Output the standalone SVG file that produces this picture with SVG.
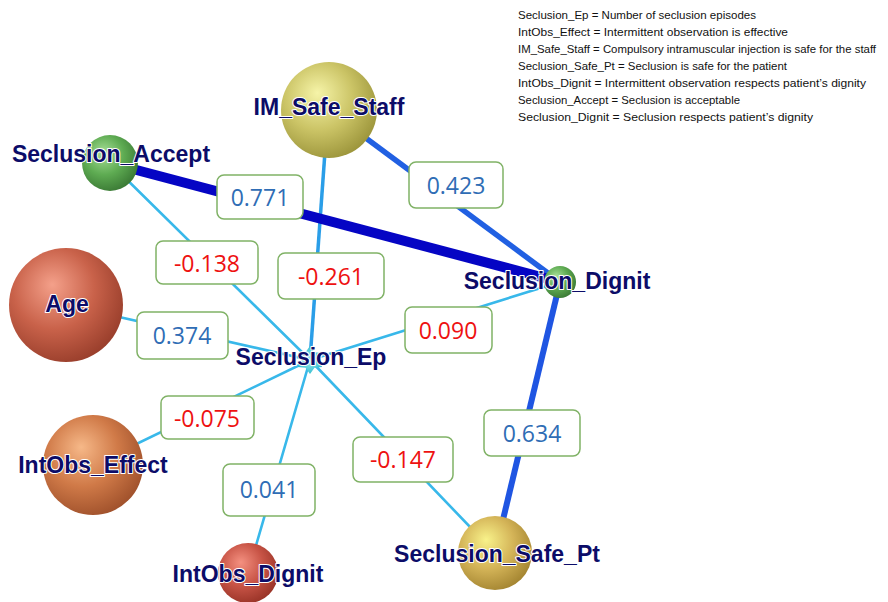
<svg xmlns="http://www.w3.org/2000/svg" width="888" height="602" viewBox="0 0 888 602">
<defs>
<radialGradient id="gGreen" cx="0.4" cy="0.38" r="0.65" fx="0.38" fy="0.32"><stop offset="0" stop-color="#a8e098"/><stop offset="0.55" stop-color="#5eab52"/><stop offset="1" stop-color="#3b7a35"/></radialGradient>
<radialGradient id="gOlive" cx="0.4" cy="0.38" r="0.65" fx="0.38" fy="0.32"><stop offset="0" stop-color="#f6f4a8"/><stop offset="0.55" stop-color="#cbc466"/><stop offset="1" stop-color="#9d963c"/></radialGradient>
<radialGradient id="gAge" cx="0.4" cy="0.38" r="0.65" fx="0.38" fy="0.32"><stop offset="0" stop-color="#f4a08a"/><stop offset="0.55" stop-color="#c9624a"/><stop offset="1" stop-color="#9a3f2c"/></radialGradient>
<radialGradient id="gEffect" cx="0.4" cy="0.38" r="0.65" fx="0.38" fy="0.32"><stop offset="0" stop-color="#f6b888"/><stop offset="0.55" stop-color="#d07a48"/><stop offset="1" stop-color="#a1522c"/></radialGradient>
<radialGradient id="gIntDig" cx="0.4" cy="0.38" r="0.65" fx="0.38" fy="0.32"><stop offset="0" stop-color="#f49080"/><stop offset="0.55" stop-color="#c85446"/><stop offset="1" stop-color="#9a3428"/></radialGradient>
<radialGradient id="gSafe" cx="0.4" cy="0.38" r="0.65" fx="0.38" fy="0.32"><stop offset="0" stop-color="#f8f28a"/><stop offset="0.55" stop-color="#d4b458"/><stop offset="1" stop-color="#a58632"/></radialGradient>
<radialGradient id="gStar" cx="0.5" cy="0.5" r="0.6"><stop offset="0" stop-color="#9ff0f4"/><stop offset="1" stop-color="#22b4c8"/></radialGradient>
</defs>
<style>
.weak{stroke:#38b8ea;stroke-width:2.6;fill:none;stroke-linecap:round}
.box{fill:#ffffff;stroke:#80b266;stroke-width:1.5}
.val{font-family:"Open Sans","Liberation Sans",sans-serif;font-size:23px;text-anchor:middle}
.pos{fill:#2f6db5}
.neg{fill:#ee1111}
.lbl{font-family:"Liberation Sans",Arial,sans-serif;font-weight:bold;font-size:23px;fill:#0c0c68;stroke:#ffffff;stroke-width:2;paint-order:stroke;stroke-linejoin:round}
.leg{font-family:"Liberation Sans",Arial,sans-serif;font-size:11px;fill:#111111}
</style>
<rect width="888" height="602" fill="#ffffff"/>
<g id="legend">
<text class="leg" x="518" y="19" textLength="238" lengthAdjust="spacingAndGlyphs">Seclusion_Ep = Number of seclusion episodes</text>
<text class="leg" x="518" y="36" textLength="270" lengthAdjust="spacingAndGlyphs">IntObs_Effect = Intermittent observation is effective</text>
<text class="leg" x="518" y="53" textLength="358" lengthAdjust="spacingAndGlyphs">IM_Safe_Staff = Compulsory intramuscular injection is safe for the staff</text>
<text class="leg" x="518" y="70" textLength="269" lengthAdjust="spacingAndGlyphs">Seclusion_Safe_Pt = Seclusion is safe for the patient</text>
<text class="leg" x="518" y="87" textLength="348" lengthAdjust="spacingAndGlyphs">IntObs_Dignit = Intermittent observation respects patient’s dignity</text>
<text class="leg" x="518" y="104" textLength="222" lengthAdjust="spacingAndGlyphs">Seclusion_Accept = Seclusion is acceptable</text>
<text class="leg" x="518" y="121" textLength="295" lengthAdjust="spacingAndGlyphs">Seclusion_Dignit = Seclusion respects patient’s dignity</text>
</g>
<g id="connectors">
<line class="weak" x1="110" y1="163" x2="310" y2="360"/>
<line class="weak" x1="66" y1="305" x2="310" y2="360"/>
<line class="weak" x1="93" y1="465" x2="310" y2="360"/>
<line class="weak" x1="248" y1="573" x2="310" y2="360"/>
<line class="weak" x1="495" y1="553" x2="310" y2="360"/>
<line class="weak" x1="560" y1="282" x2="310" y2="360"/>
<line x1="328" y1="110" x2="310" y2="360" stroke="#2a9ee8" stroke-width="3.5"/>
<line x1="328" y1="110" x2="560" y2="282" stroke="#2160e2" stroke-width="5.5"/>
<line x1="560" y1="282" x2="495" y2="553" stroke="#1f55e2" stroke-width="6"/>
<line x1="110" y1="163" x2="560" y2="282" stroke="#0505c4" stroke-width="10"/>
<g id="edge-labels">
<rect class="box" x="217" y="175" width="86" height="44" rx="7"/><text class="val pos" x="260" y="206">0.771</text>
<rect class="box" x="409" y="162" width="94" height="46" rx="7"/><text class="val pos" x="456" y="194">0.423</text>
<rect class="box" x="156" y="241" width="102" height="43" rx="7"/><text class="val neg" x="207" y="272">-0.138</text>
<rect class="box" x="278" y="253" width="106" height="46" rx="7"/><text class="val neg" x="331" y="285">-0.261</text>
<rect class="box" x="137" y="312" width="91" height="47" rx="7"/><text class="val pos" x="182" y="344">0.374</text>
<rect class="box" x="405" y="307" width="87" height="46" rx="7"/><text class="val neg" x="448" y="339">0.090</text>
<rect class="box" x="161" y="396" width="93" height="43" rx="7"/><text class="val neg" x="207" y="427">-0.075</text>
<rect class="box" x="223" y="464" width="92" height="52" rx="7"/><text class="val pos" x="269" y="498">0.041</text>
<rect class="box" x="353" y="437" width="100" height="45" rx="7"/><text class="val neg" x="403" y="468">-0.147</text>
<rect class="box" x="484" y="410" width="96" height="46" rx="7"/><text class="val pos" x="532" y="442">0.634</text>
</g>
</g>
<g id="node-im-safe-staff">
<circle cx="329" cy="110" r="48" fill="url(#gOlive)"/>
<text class="lbl" x="329" y="115" text-anchor="middle">IM_Safe_Staff</text>
</g>
<g id="node-seclusion-accept">
<circle cx="110" cy="163" r="28" fill="url(#gGreen)"/>
<text class="lbl" x="111" y="162" text-anchor="middle">Seclusion_Accept</text>
</g>
<g id="node-age">
<circle cx="66" cy="305" r="57" fill="url(#gAge)"/>
<text class="lbl" x="67" y="312" text-anchor="middle">Age</text>
</g>
<g id="node-intobs-effect">
<circle cx="93" cy="465" r="50" fill="url(#gEffect)"/>
<text class="lbl" x="93" y="473" text-anchor="middle">IntObs_Effect</text>
</g>
<g id="node-intobs-dignit">
<circle cx="248" cy="573" r="30" fill="url(#gIntDig)"/>
<text class="lbl" x="248" y="582" text-anchor="middle">IntObs_Dignit</text>
</g>
<g id="node-seclusion-safe-pt">
<circle cx="495" cy="553" r="37" fill="url(#gSafe)"/>
<text class="lbl" x="497" y="562" text-anchor="middle">Seclusion_Safe_Pt</text>
</g>
<g id="node-seclusion-dignit">
<circle cx="560" cy="282" r="16" fill="url(#gGreen)"/>
<text class="lbl" x="557" y="289" text-anchor="middle">Seclusion_Dignit</text>
</g>
<g id="node-seclusion-ep">
<polygon points="310,346 314.5,352.2 322.1,353 318.5,360 322.1,367 314.5,367.8 310,374 305.5,367.8 297.9,367 301.5,360 297.9,353 305.5,352.2" fill="url(#gStar)"/>
<text class="lbl" x="311" y="365" text-anchor="middle">Seclusion_Ep</text>
</g>
</svg>
